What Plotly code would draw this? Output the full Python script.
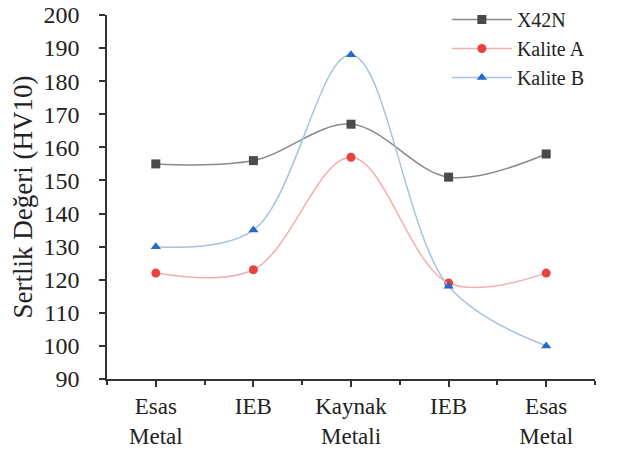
import plotly.graph_objects as go

categories = ["Esas<br>Metal", "IEB", "Kaynak<br>Metali", "IEB", "Esas<br>Metal"]
positions = [0, 1, 2, 3, 4]
x42n = [155, 156, 167, 151, 158]
kalite_a = [122, 123, 157, 119, 122]
kalite_b = [130, 135, 188, 118, 100]
y_ticks = list(range(90, 201, 10))

FONT = "Liberation Serif"

fig = go.Figure()
series = [
    ("X42N", x42n, "#8a8a8a", "#4a4a4a", "square"),
    ("Kalite A", kalite_a, "#f3aeb0", "#e8423f", "circle"),
    ("Kalite B", kalite_b, "#a9c1de", "#2468c8", "triangle-up"),
]
for name, vals, lc, mc, sym in series:
    fig.add_trace(go.Scatter(
        x=positions, y=vals, name=name, mode="lines+markers",
        line=dict(color=lc, width=1.5, shape="spline", smoothing=1.0),
        marker=dict(color=mc, symbol=sym, size=9),
    ))

fig.update_layout(
    width=625, height=450,
    margin=dict(l=107, r=30, t=15, b=71, autoexpand=False),
    paper_bgcolor="white", plot_bgcolor="white",
    font=dict(family=FONT, size=24, color="#222"),
    showlegend=True,
    legend=dict(xref="container", yref="container", x=0.715, y=1.0,
                xanchor="left", yanchor="top",
                bgcolor="rgba(0,0,0,0)", font=dict(family=FONT, size=20),
                tracegroupgap=0, itemwidth=60),
)
fig.update_xaxes(
    range=[-0.5, 4.5], tickmode="array", tickvals=positions, ticktext=categories,
    showgrid=False, zeroline=False, showline=True, linecolor="#333", linewidth=1.5,
    ticks="outside", ticklen=6, tickcolor="#333", tickwidth=1.5,
    minor=dict(tickmode="array", tickvals=[-0.5, 0.5, 1.5, 2.5, 3.5, 4.5],
               ticks="outside", ticklen=4, tickcolor="#333", tickwidth=1.5),
    tickfont=dict(family=FONT, size=23),
)
fig.update_yaxes(
    range=[90, 200], tickmode="array", tickvals=y_ticks,
    showgrid=False, zeroline=False, showline=True, linecolor="#333", linewidth=1.5,
    ticks="outside", ticklen=6, tickcolor="#333", tickwidth=1.5,
    ticklabelstandoff=15, ticklabeloverflow="allow",
    title=dict(text="Sertlik Değeri (HV10)", font=dict(family=FONT, size=27), standoff=3),
    tickfont=dict(family=FONT, size=24),
)

fig.write_html("out.html", config={"displayModeBar": False},
               post_script="document.body.style.margin='0';")
